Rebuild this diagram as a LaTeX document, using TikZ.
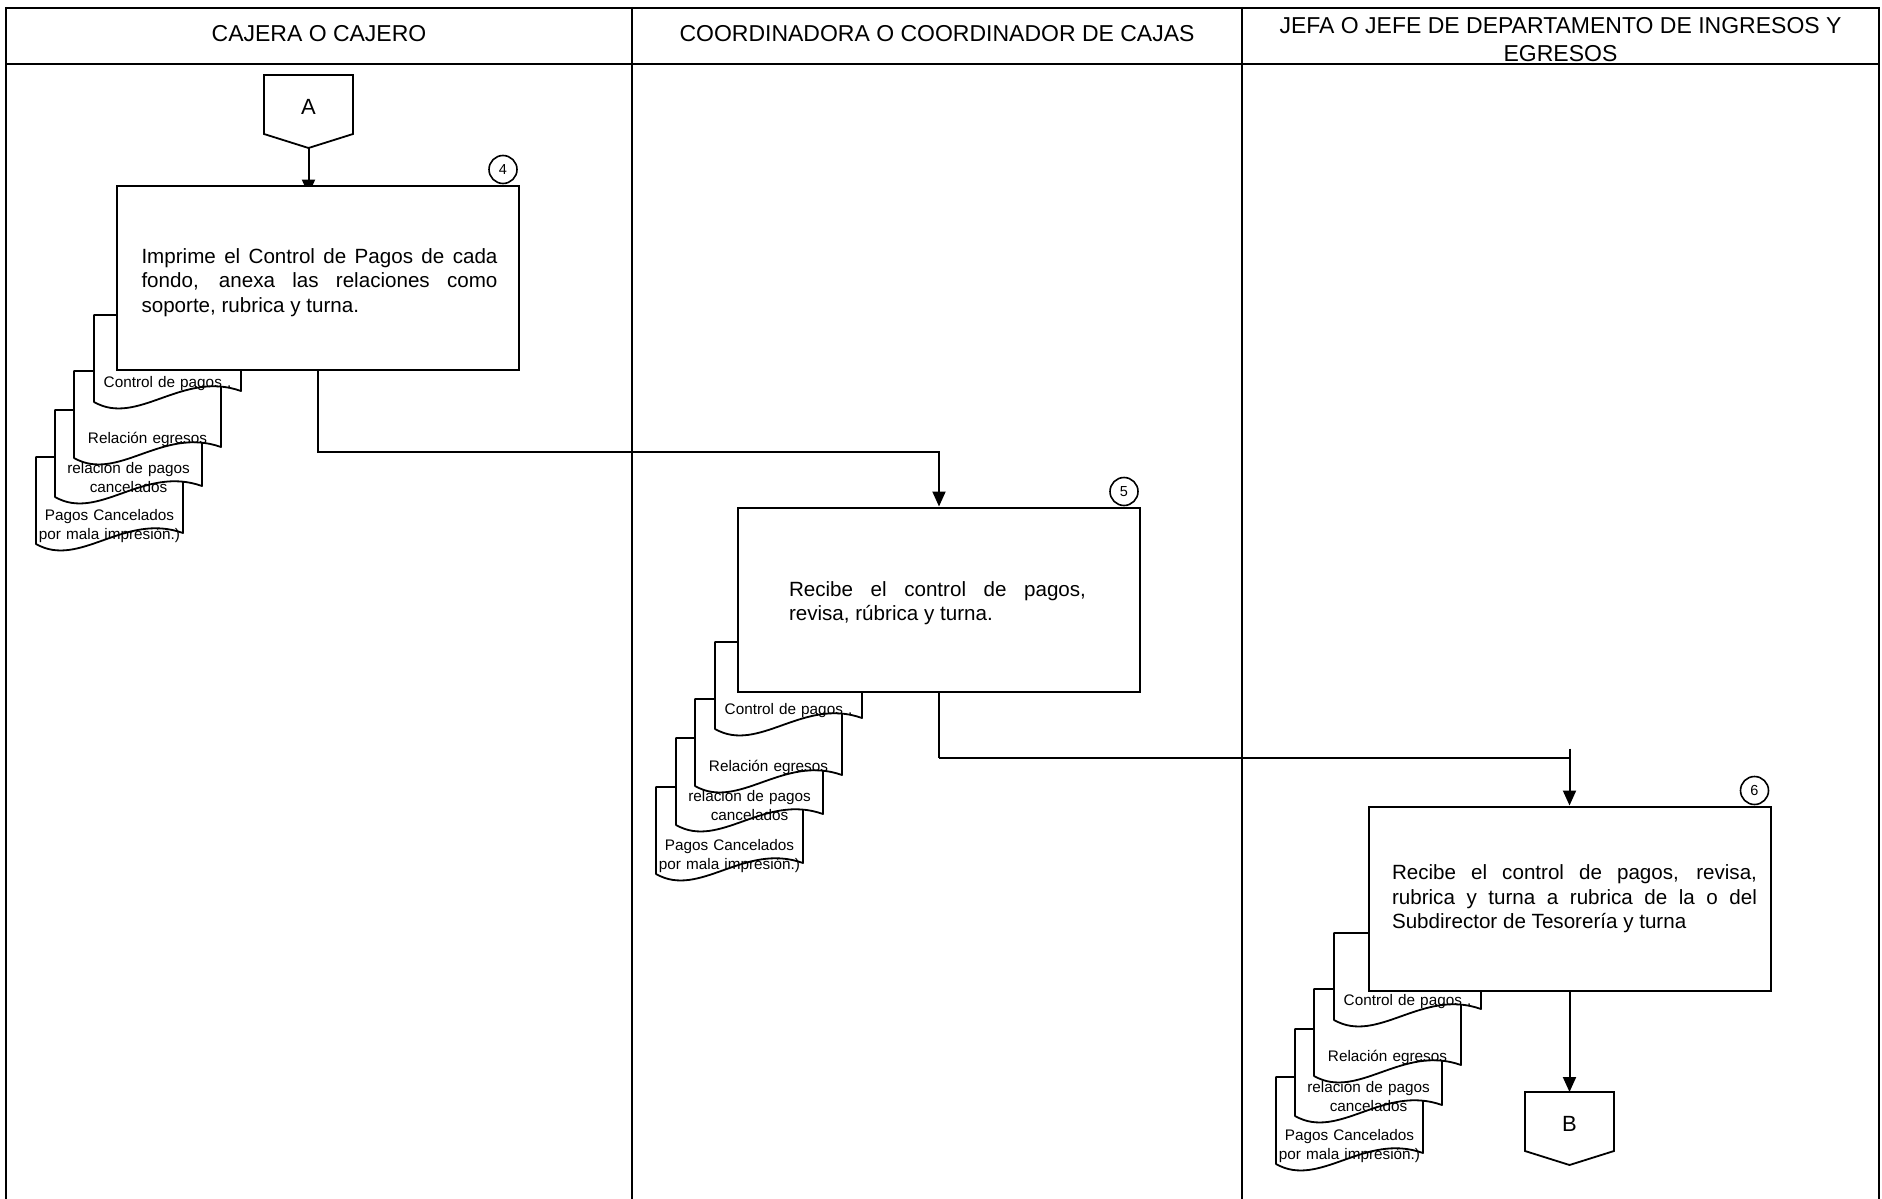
\documentclass[tikz,border=0pt]{standalone}
\usepackage{fontspec}
\setmainfont{Liberation Sans}
\usetikzlibrary{arrows.meta,calc}
\pgfdeclarelayer{bg}
\pgfsetlayers{bg,main}
\tikzset{
  hframe/.style={line width=2.4pt},
  vframe/.style={line width=2pt},
  procbox/.style={draw, fill=white, line width=2pt, minimum width=402pt, minimum height=184pt, inner sep=0pt},
  boxtext/.style={anchor=base, inner sep=0pt, align=justify, font=\fontsize{20.6}{24.5}\selectfont},
  hdr/.style={anchor=base, inner sep=0pt, font=\fontsize{23}{28.4}\selectfont},
  docline/.style={draw, fill=white, line width=1.8pt, line join=round},
  doctext/.style={anchor=base, inner sep=0pt, text width=160pt, align=center, font=\fontsize{15.3}{19.5}\selectfont},
  numcirc/.style={draw, circle, fill=white, line width=1.6pt, minimum size=28pt, inner sep=0pt, font=\fontsize{14.5}{16}\selectfont},
  conn/.style={line width=2pt},
  arr/.style={-{Triangle[length=15pt,width=13pt]}},
  offp/.style={draw, fill=white, line width=1.8pt, line join=miter},
  offlabel/.style={anchor=base, inner sep=0pt, font=\fontsize{22}{26}\selectfont},
}
\newcommand{\fdoc}[5]{%
  \begin{scope}[shift={(#2,#3)}]
    \path[docline] (0,0) -- (147,0) -- (147,76) .. controls (88,55) and (44,112) .. (0,87) -- cycle;
    \node[doctext] (#1) at (73.5,#4) {#5};
  \end{scope}}
\newcommand{\offpage}[4]{%
  \begin{scope}[shift={(#2,#3)}]
    \path[offp] (-44.5,0) -- (44.5,0) -- (44.5,59) -- (0,73) -- (-44.5,59) -- cycle;
    \node[offlabel] (#1) at (0,39) {#4};
    \coordinate (#1top) at (0,0);
    \coordinate (#1tip) at (0,73);
  \end{scope}}
\begin{document}
\hyphenpenalty=10000 \exhyphenpenalty=10000 \tolerance=9999
\begin{tikzpicture}[x=1pt,y=-1pt]
\useasboundingbox (0,0) rectangle (1882,1199);
% frame
\draw[hframe] (6,8) -- (1879,8);
\draw[hframe] (6,64) -- (1879,64);
\draw[vframe] (6,7) -- (6,1199);
\draw[vframe] (632,7) -- (632,1199);
\draw[vframe] (1242,7) -- (1242,1199);
\draw[vframe] (1879,7) -- (1879,1199);
% headers
\node[hdr] (h1) at (319,41.5) {CAJERA O CAJERO};
\node[hdr] (h2) at (937,41.5) {COORDINADORA O COORDINADOR DE CAJAS};
\node[hdr] (h3a) at (1560.5,33.3) {JEFA O JEFE DE DEPARTAMENTO DE INGRESOS Y};
\node[hdr] (h3b) at (1560.5,61.7) {EGRESOS};
% off-page connector A
\offpage{A}{308.5}{75}{A}
% step 4
\fdoc{d4d}{36}{457}{63}{Pagos Cancelados\\por mala impresión.)}
\fdoc{d4c}{55}{410}{63}{relación de pagos\\cancelados}
\fdoc{d4b}{74}{371}{72}{Relación egresos}
\fdoc{d4a}{94}{315}{72}{Control de pagos .}
\node[procbox] (box4) at (318,277.5) {};
\node[boxtext, text width=356pt] (t4) at (319.5,263) {Imprime el Control de Pagos de cada fondo, anexa las relaciones como soporte, rubrica y turna.};
\node[numcirc] (n4) at ($(box4.north east)+(-17,-15)$) {4};
% step 5
\fdoc{d5d}{656}{787}{63}{Pagos Cancelados\\por mala impresión.)}
\fdoc{d5c}{676}{738}{63}{relación de pagos\\cancelados}
\fdoc{d5b}{695}{699}{72}{Relación egresos}
\fdoc{d5a}{715}{642}{72}{Control de pagos .}
\node[procbox] (box5) at (939,599.5) {};
\node[boxtext, text width=297pt] (t5) at (937.5,596) {Recibe el control de pagos, revisa, rúbrica y turna.};
\node[numcirc] (n5) at ($(box5.north east)+(-17,-15)$) {5};
% step 6
\fdoc{d6d}{1276}{1077}{63}{Pagos Cancelados\\por mala impresión.)}
\fdoc{d6c}{1295}{1029}{63}{relación de pagos\\cancelados}
\fdoc{d6b}{1314}{989}{72}{Relación egresos}
\fdoc{d6a}{1334}{933}{72}{Control de pagos .}
\node[procbox] (box6) at (1569.5,898.5) {};
\node[boxtext, text width=365pt] (t6) at (1574.5,879.5) {Recibe el control de pagos, revisa, rubrica y turna a rubrica de la o del Subdirector de Tesorería y turna};
\node[numcirc] (n6) at ($(box6.north east)+(-17,-15)$) {6};
% off-page connector B
\offpage{B}{1569.5}{1092}{B}
% connectors
\coordinate (A4) at (Atip |- box4.north);
\begin{pgfonlayer}{bg}
\draw[conn,arr] (Atip) -- ([yshift=-10pt]A4);
\end{pgfonlayer}
\draw[conn,arr] (box4.south) -- ++(0,81) -| (box5.north);
\draw[conn] (box5.south) -- ++(0,65) coordinate (j2a);
\coordinate (j2) at (j2a -| box6.north);
\draw[conn] (j2a) -- (j2);
\draw[conn,arr] ([yshift=9pt]j2) -- (box6.north);
\draw[conn,arr] (box6.south) -- (Btop);
\end{tikzpicture}
\end{document}
